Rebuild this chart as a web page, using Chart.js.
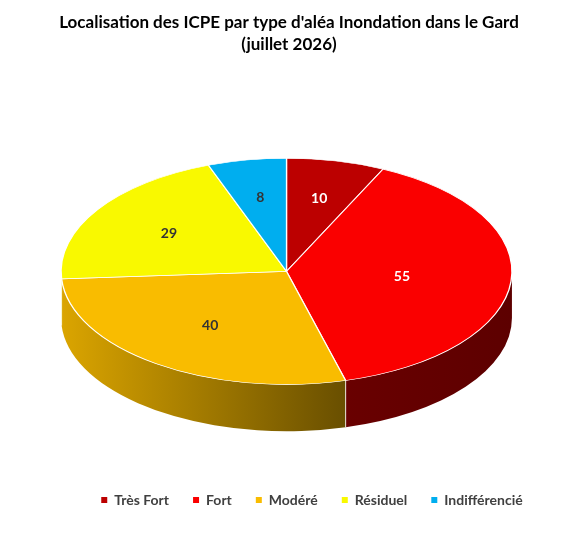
<!DOCTYPE html>
<html>
<head>
<meta charset="utf-8">
<script src="https://cdn.jsdelivr.net/npm/chart.js@4.4.1/dist/chart.umd.min.js"></script>
<style>
    html, body { margin: 0; padding: 0; background: #fff; }
    #wrap { width: 578px; height: 549px; }
</style>
</head>
<body>
<div id="wrap"><canvas id="chart" width="578" height="549"></canvas></div>
<script>
const titleLines = ["Localisation des ICPE par type d'aléa Inondation dans le Gard", '(juillet 2026)'];
const categories = ['Très Fort', 'Fort', 'Modéré', 'Résiduel', 'Indifférencié'];
const counts = [10, 55, 40, 29, 8];

// styles (kept apart from the data)
const sliceColors = ['#BC0000', '#FA0000', '#F9BC00', '#F9F900', '#00AEEF'];
const valueColors = ['#FFFFFF', '#FFFFFF', '#333333', '#333333', '#333333'];

function shade(hex, f) {
    const n = parseInt(hex.slice(1), 16);
    const r = Math.round(((n >> 16) & 255) * f);
    const g = Math.round(((n >> 8) & 255) * f);
    const b = Math.round((n & 255) * f);
    return `rgb(${r},${g},${b})`;
}

// Squashes the pie into a tilted disc and draws the visible rim under it
const pie3d = {
    id: 'pie3d',
    afterLayout(chart, args, opts) {
        if (chart.legend) {
            chart.legend.left += opts.legendShift;
            chart.legend.right += opts.legendShift;
        }
    },
    beforeDatasetsDraw(chart, args, opts) {
        const meta = chart.getDatasetMeta(0);
        const ca = chart.chartArea;
        const first = meta.data[0];
        const rx = ca.width * opts.widthFrac;
        const ry = rx * opts.tilt;
        const depth = rx * opts.depth;
        const ex = ca.left + ca.width * opts.centerFrac;
        const ey = ca.top + ry;
        const g = { ex, ey, rx, ry, depth, cx: first.x, cy: first.y, R: first.outerRadius };
        chart.$pie3d = g;

        const ctx = chart.ctx;
        const colors = chart.data.datasets[0].backgroundColor;
        ctx.save();
        meta.data.forEach((arc, i) => {
            const s = Math.max(arc.startAngle, 0);
            const e = Math.min(arc.endAngle, Math.PI);
            if (e <= s) return;
            const grad = ctx.createLinearGradient(ex - rx, 0, ex + rx, 0);
            opts.sideShade.forEach(([stop, f]) => grad.addColorStop(stop, shade(colors[i], f)));
            ctx.beginPath();
            ctx.ellipse(ex, ey, rx, ry, 0, s, e);
            ctx.ellipse(ex, ey + depth, rx, ry, 0, e, s, true);
            ctx.closePath();
            ctx.fillStyle = grad;
            ctx.fill();
        });
        // seams between rim pieces
        ctx.strokeStyle = opts.seamColor;
        ctx.lineWidth = 1;
        meta.data.forEach(arc => {
            const a = arc.endAngle;
            if (a > 0 && a < Math.PI) {
                const x = ex + rx * Math.cos(a);
                const y = ey + ry * Math.sin(a);
                ctx.beginPath();
                ctx.moveTo(x, y);
                ctx.lineTo(x, y + depth);
                ctx.stroke();
            }
        });
        ctx.restore();

        ctx.save();
        ctx.translate(ex, ey);
        ctx.scale(rx / g.R, ry / g.R);
        ctx.translate(-g.cx, -g.cy);
    },
    afterDatasetsDraw(chart, args, opts) {
        const ctx = chart.ctx;
        ctx.restore();
        const g = chart.$pie3d;
        const meta = chart.getDatasetMeta(0);
        const values = chart.data.datasets[0].data;
        ctx.save();
        ctx.font = opts.valueFont;
        ctx.textAlign = 'center';
        ctx.textBaseline = 'middle';
        meta.data.forEach((arc, i) => {
            // centroid of the sector on the top face
            const half = (arc.endAngle - arc.startAngle) / 2;
            const mid = arc.startAngle + half;
            const d = 2 * Math.sin(half) / (3 * half);
            const x = g.ex + g.rx * d * Math.cos(mid);
            const y = g.ey + g.ry * d * Math.sin(mid);
            ctx.fillStyle = opts.valueColors[i];
            ctx.fillText(String(values[i]), x, y);
        });
        ctx.restore();
    }
};

Chart.defaults.font.family = 'Lato, "Open Sans", sans-serif';

new Chart(document.getElementById('chart'), {
    type: 'pie',
    data: {
        labels: categories,
        datasets: [{
            data: counts,
            backgroundColor: sliceColors,
            borderColor: '#FFFFFF',
            borderWidth: 0.9,
            clip: false,
        }]
    },
    options: {
        responsive: false,
        animation: false,
        events: [],
        layout: {
            padding: { left: 0, right: 0, top: 0, bottom: 32 }
        },
        plugins: {
            title: {
                display: true,
                text: titleLines,
                color: '#000000',
                font: { size: 17, weight: 'bold', lineHeight: 1.3 },
                padding: { top: 11, bottom: 103 }
            },
            legend: {
                position: 'bottom',
                labels: {
                    color: '#404040',
                    font: { size: 14, weight: 'bold' },
                    boxWidth: 6,
                    boxHeight: 6,
                    padding: 24,
                    generateLabels: (chart) =>
                        Chart.overrides.pie.plugins.legend.labels.generateLabels(chart)
                            .map(item => ({ ...item, lineWidth: 0 }))
                }
            },
            tooltip: { enabled: false },
            pie3d: {
                widthFrac: 0.390,
                centerFrac: 0.4957,
                tilt: 0.502,
                depth: 0.207,
                sideShade: [[0, 0.88], [0.63, 0.42], [1, 0.37]],
                seamColor: 'rgba(255,255,255,0.8)',
                valueFont: 'bold 14px Lato, "Open Sans", sans-serif',
                valueColors: valueColors,
                legendShift: 23
            }
        }
    },
    plugins: [pie3d]
});
</script>
</body>
</html>
